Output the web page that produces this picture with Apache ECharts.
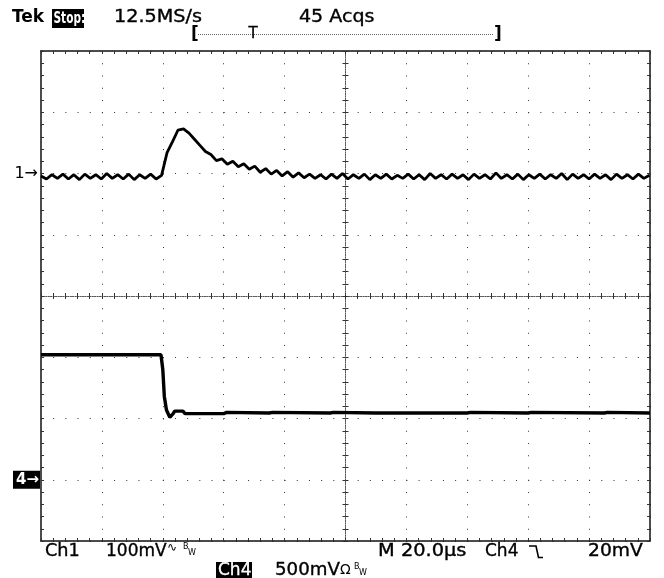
<!DOCTYPE html>
<html><head><meta charset="utf-8">
<script src="https://cdn.jsdelivr.net/npm/echarts@6/dist/echarts.min.js"></script>
<style>html,body{margin:0;padding:0;background:#fff}#c{width:664px;height:578px}</style>
</head><body><div id="c"></div>
<script>
// ---- data ----
// Ch1 (100 mV/div), sampled every ch1StepUs microseconds, values in mV relative to ground marker "1"
const ch1StepUs = 1.8;
const ch1ValuesMv = [
  -4, -9, -2, -8, -1, -9, -2, -10, -1, -8, -2, -9, 0, -8, -2, -9, -1, -10, -2, -8, -1, -9, -3,
  34, 52, 71, 73, 66, 56, 46, 36, 31, 21, 24, 15, 20, 11, 16, 7, 12, 2, 8, -1, 5, -4, 3, -6, 1, -7,
  -1, -8, -2, -9, -1, -8, 0, -9, -2, -8, -1, -10, -2, -8, -1, -9, -3, -8, -1, -9, -2, -10, 0, -8,
  -2, -9, -1, -8, -2, -10, -1, -8, -2, -9, 1, -8, -2, -9, -1, -10, -2, -8, -1, -9, -2, -8, 0, -10,
  -1, -8, -2, -9, -1, -8, -2, -10, -1, -8, -2, -9, -1, -8, -3
];
// Ch4 (500 mV/div), values in V relative to ground marker "4"
const ch4TimesUs = [0, 39.4, 40.0, 40.5, 41.2, 42.3, 43.4, 43.9, 46.6, 47.3, 52.0, 52.6, 60.0, 61.0, 75.0, 76.0, 95.0, 96.0, 110.0, 140.0, 141.0, 160.0, 161.0, 185.0, 186.0, 200.0];
const ch4ValuesV  = [1.02, 1.02, 0.90, 0.68, 0.57, 0.51, 0.54, 0.56, 0.56, 0.54, 0.54, 0.55, 0.54, 0.55, 0.545, 0.55, 0.545, 0.55, 0.545, 0.545, 0.55, 0.545, 0.55, 0.545, 0.55, 0.545];

const timeAxis = {min: 0, max: 200, interval: 20};      // 20 µs/div
const ch1Axis  = {min: -600, max: 200, interval: 100};  // 100 mV/div
const ch4Axis  = {min: -0.5, max: 3.5, interval: 0.5};  // 500 mV/div
const divAxis  = {min: -4, max: 4, interval: 1};

const FONT = 'DejaVu Sans';

// ---- axes ----
function xAx(position, opt) {
  return Object.assign({
    type: 'value', min: timeAxis.min, max: timeAxis.max, interval: timeAxis.interval,
    position: position, offset: 0,
    axisLine: {show: true, onZero: false, lineStyle: {color: '#111', width: 1.5}},
    axisTick: {show: true, inside: true, length: 3, lineStyle: {color: '#333'}},
    minorTick: {show: true, splitNumber: 5, length: 3, lineStyle: {color: '#333'}},
    axisLabel: {show: false}, splitLine: {show: false}
  }, opt || {});
}
function yAx(position, range, opt) {
  return Object.assign({
    type: 'value', min: range.min, max: range.max, interval: range.interval,
    position: position, offset: 0,
    axisLine: {show: true, onZero: false, lineStyle: {color: '#111', width: 1.5}},
    axisTick: {show: true, inside: true, length: 3, lineStyle: {color: '#333'}},
    minorTick: {show: true, splitNumber: 5, length: 3, lineStyle: {color: '#333'}},
    axisLabel: {show: false}, splitLine: {show: false}
  }, opt || {});
}
const centerLine = {show: true, onZero: false, lineStyle: {color: '#555', width: 1, type: [1, 1.44]}};

const xAxes = [
  xAx('bottom', {splitLine: {show: true, lineStyle: {color: '#333', width: 1, type: [1, 11.25]}}}),
  xAx('top'),
  xAx('bottom', {offset: -245, axisLine: centerLine, axisTick: {show: true, inside: false, length: 3, lineStyle: {color: '#333'}}}),
  xAx('bottom', {offset: -245, axisLine: centerLine, axisTick: {show: true, inside: true, length: 3, lineStyle: {color: '#333'}}})
];
const yAxes = [
  yAx('left', ch1Axis, {
    splitLine: {show: true, lineStyle: {color: '#333', width: 1, type: [1, 11.18]}},
    axisLabel: {show: true, margin: 3, color: '#000', fontSize: 16, fontFamily: FONT,
      formatter: v => v === 0 ? '1\u2192' : ''}
  }),
  yAx('left', ch4Axis, {
    axisLine: {show: false, onZero: false}, axisTick: {show: false}, minorTick: {show: false},
    axisLabel: {show: true, margin: 1, fontFamily: FONT,
      formatter: v => v === 0 ? '{b|4\u2192}' : '',
      rich: {b: {backgroundColor: '#000', color: '#fff', fontSize: 15, fontWeight: 'bold', fontFamily: FONT, padding: [2, 1, 1, 3]}}}
  }),
  yAx('right', divAxis),
  yAx('left', divAxis, {offset: -304.5, axisLine: centerLine, axisTick: {show: true, inside: false, length: 3, lineStyle: {color: '#333'}}}),
  yAx('left', divAxis, {offset: -304.5, axisLine: centerLine, axisTick: {show: true, inside: true, length: 3, lineStyle: {color: '#333'}}})
];

// ---- texts ----
function txt(x, y, text, o) {
  o = o || {};
  return {
    type: 'text', x: x, y: y, scaleX: o.sx || 1, silent: true, z: 100,
    style: {text: text, fill: o.fill || '#000', fontSize: o.fs || 17, fontFamily: FONT,
      fontWeight: o.fw || 'normal', align: o.align || 'left', verticalAlign: 'middle',
      textAlign: o.align || 'left', textVerticalAlign: 'middle',
      stroke: o.fill || '#000', lineWidth: o.lw === undefined ? 0.35 : o.lw}
  };
}
function box(x, y, w, h) {
  return {type: 'rect', silent: true, z: 99, shape: {x: x, y: y, width: w, height: h}, style: {fill: '#000'}};
}
const graphics = [
  txt(12, 18, 'Tek', {fw: 'bold', lw: 0}),
  box(52, 9, 32, 19),
  txt(53.5, 18.5, 'Stop:', {fill: '#fff', fw: 'bold', fs: 16, sx: 0.66, lw: 0}),
  txt(114, 18, '12.5MS/s', {sx: 1.13}),
  txt(299, 18, '45 Acqs', {sx: 1.12}),
  txt(191, 35, '[', {fw: 'bold', lw: 0}),
  {type: 'line', silent: true, shape: {x1: 198, y1: 34.5, x2: 494, y2: 34.5}, style: {stroke: '#666', lineWidth: 1, lineDash: [1, 1]}},
  txt(253, 34, 'T', {align: 'center', fs: 15}),
  txt(494, 35, ']', {fw: 'bold', lw: 0}),
  txt(45, 552, 'Ch1', {sx: 1.04}),
  txt(106, 552, '100mV'),
  txt(167, 548, '\u223F', {fs: 12, lw: 0}),
  txt(183, 547, 'B', {fs: 8, lw: 0}),
  txt(188, 553, 'W', {fs: 8, lw: 0}),
  txt(378, 552, 'M 20.0\u00B5s', {sx: 1.14}),
  txt(485, 552, 'Ch4'),
  {type: 'polyline', silent: true, shape: {points: [[529, 546], [536, 546], [538.5, 557.5], [543, 557.5]]}, style: {stroke: '#000', lineWidth: 1.6, fill: null}},
  txt(588, 552, '20mV', {sx: 1.1}),
  box(216, 562, 36, 16),
  txt(218, 570.5, 'Ch4', {fill: '#fff'}),
  txt(275, 570.5, '500mV', {sx: 1.07}),
  txt(340, 570.5, '\u03A9', {fs: 14, lw: 0}),
  txt(354, 567, 'B', {fs: 8, lw: 0}),
  txt(359, 573, 'W', {fs: 8, lw: 0})
];

const chart = echarts.init(document.getElementById('c'), null, {renderer: 'canvas'});
chart.setOption({
  animation: false,
  backgroundColor: '#fff',
  grid: {left: 41, top: 51, width: 609, height: 490, containLabel: false},
  xAxis: xAxes,
  yAxis: yAxes,
  graphic: graphics,
  series: [
    {type: 'line', xAxisIndex: 0, yAxisIndex: 0, symbol: 'none', silent: true, z: 10,
      lineStyle: {color: '#000', width: 2.8},
      data: ch1ValuesMv.map((v, i) => [i * ch1StepUs, v])},
    {type: 'line', xAxisIndex: 0, yAxisIndex: 1, symbol: 'none', silent: true, z: 10,
      lineStyle: {color: '#000', width: 3.4},
      data: ch4ValuesV.map((v, i) => [ch4TimesUs[i], v])}
  ]
});
</script></body></html>
